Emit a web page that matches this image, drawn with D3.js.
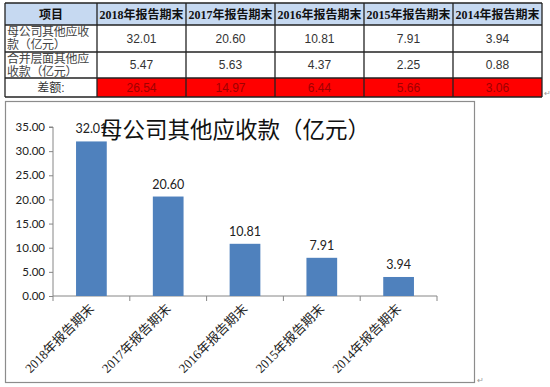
<!DOCTYPE html>
<meta charset="utf-8">
<style>
body { margin: 0; background: #fff; }
svg { display: block; }
</style>
<body>
<script src="https://d3js.org/d3.v7.min.js"></script>
<script>

// data
var categories = ["2018年报告期末", "2017年报告期末", "2016年报告期末", "2015年报告期末", "2014年报告期末"];
var parentValues = [32.01, 20.60, 10.81, 7.91, 3.94];
var groupValues = [5.47, 5.63, 4.37, 2.25, 0.88];
var diffValues = [26.54, 14.97, 6.44, 5.66, 3.06];
var rowLabels = [["母公司其他应收", "款（亿元）"], ["合并层面其他应", "收款（亿元）"]];
var yTicks = [0, 5, 10, 15, 20, 25, 30, 35];
var chartTitle = "母公司其他应收款（亿元）";

var svg = d3.select("body").append("svg")
  .attr("width", 550)
  .attr("height", 387);

// ---------- table ----------
var tLeft = 5, tFirst = 97, tRight = 542;
var rowY = [3, 25, 52, 78, 97];
var col = d3.scaleBand().domain(categories).range([tFirst, tRight]);
var serif = "'Liberation Serif', 'Noto Sans CJK SC', serif";
var sans = "'Liberation Sans', 'Noto Sans CJK SC', sans-serif";

var table = svg.append("g");

// header background
table.append("rect")
  .attr("x", tLeft).attr("y", rowY[0])
  .attr("width", tRight - tLeft).attr("height", rowY[1] - rowY[0])
  .attr("fill", "#c6d9f1");

// red difference cells
table.selectAll(".diffcell").data(categories).enter().append("rect")
  .attr("x", function(d) { return col(d); })
  .attr("y", rowY[3])
  .attr("width", col.bandwidth())
  .attr("height", rowY[4] - rowY[3])
  .attr("fill", "#ff0000");

// grid lines
rowY.forEach(function(y) {
  table.append("line")
    .attr("x1", tLeft).attr("x2", tRight).attr("y1", y).attr("y2", y)
    .attr("stroke", "#222").attr("stroke-width", 1.3);
});
[tLeft].concat(categories.map(function(d) { return col(d); })).concat([tRight]).forEach(function(x) {
  table.append("line")
    .attr("x1", x).attr("x2", x).attr("y1", rowY[0]).attr("y2", rowY[4])
    .attr("stroke", "#222").attr("stroke-width", 1.3);
});

// header text
table.append("text")
  .attr("x", (tLeft + tFirst) / 2).attr("y", 18.5)
  .attr("text-anchor", "middle")
  .attr("font-family", sans).attr("font-weight", "bold").attr("font-size", 12)
  .attr("fill", "#111")
  .text("项目");
table.selectAll(".head").data(categories).enter().append("text")
  .attr("x", function(d) { return col(d) + col.bandwidth() / 2; })
  .attr("y", 18.5)
  .attr("text-anchor", "middle")
  .attr("font-family", serif).attr("font-weight", "bold").attr("font-size", 12)
  .attr("fill", "#111")
  .text(function(d) { return d; });

// row labels
rowLabels.forEach(function(lines, i) {
  lines.forEach(function(s, j) {
    table.append("text")
      .attr("x", tLeft + 2)
      .attr("y", rowY[i + 1] + 11 + j * 13)
      .attr("font-family", sans).attr("font-size", 12)
      .attr("letter-spacing", -0.3)
      .attr("fill", "#444")
      .text(s);
  });
});
table.append("text")
  .attr("x", (tLeft + tFirst) / 2).attr("y", 92)
  .attr("text-anchor", "middle")
  .attr("font-family", sans).attr("font-size", 12)
  .attr("fill", "#333")
  .text("差额:");

// row values
[parentValues, groupValues].forEach(function(vals, i) {
  table.selectAll(".v" + i).data(vals).enter().append("text")
    .attr("x", function(d, k) { return col(categories[k]) + col.bandwidth() / 2; })
    .attr("y", (rowY[i + 1] + rowY[i + 2]) / 2 + 4)
    .attr("text-anchor", "middle")
    .attr("font-family", sans).attr("font-size", 12)
    .attr("fill", "#333")
    .text(function(d) { return d.toFixed(2); });
});
table.selectAll(".vd").data(diffValues).enter().append("text")
  .attr("x", function(d, k) { return col(categories[k]) + col.bandwidth() / 2; })
  .attr("y", 92)
  .attr("text-anchor", "middle")
  .attr("font-family", sans).attr("font-size", 12)
  .attr("fill", "#a00000")
  .text(function(d) { return d.toFixed(2); });

svg.append("text").attr("x", 544).attr("y", 96)
  .attr("font-size", 8).attr("fill", "#999").text("↵");

// ---------- chart ----------
svg.append("rect")
  .attr("x", 5.5).attr("y", 101.5)
  .attr("width", 469).attr("height", 281)
  .attr("fill", "#fff")
  .attr("stroke", "#8c8c8c").attr("stroke-width", 1.2);

var x = d3.scaleBand().domain(categories).range([53, 437])
  .paddingInner(0.6).paddingOuter(0.3);
var y = d3.scaleLinear().domain([0, 35]).range([296, 127]);

var yAxis = svg.append("g")
  .attr("transform", "translate(53,0)")
  .call(d3.axisLeft(y).tickValues(yTicks).tickFormat(d3.format(".2f")).tickSize(4).tickPadding(4));
yAxis.select(".domain").attr("stroke", "#868686").attr("d", "M-4," + y(35) + "H0V" + y(0));
yAxis.selectAll(".tick line").attr("stroke", "#868686");
yAxis.selectAll(".tick text")
  .attr("font-family", "Lato, 'Open Sans', sans-serif").attr("font-size", 11.5).attr("fill", "#222");

// x axis with ticks on the category boundaries
var step = x.step();
var bounds = categories.map(function(d) { return x(d) - step * 0.3; });
bounds.push(bounds[bounds.length - 1] + step);
svg.append("line")
  .attr("x1", 53).attr("x2", bounds[bounds.length - 1])
  .attr("y1", y(0)).attr("y2", y(0))
  .attr("stroke", "#868686");
svg.selectAll(".xt").data(bounds).enter().append("line")
  .attr("x1", function(d) { return d; }).attr("x2", function(d) { return d; })
  .attr("y1", y(0)).attr("y2", y(0) + 5)
  .attr("stroke", "#868686");

// bars
svg.selectAll(".bar").data(parentValues).enter().append("rect")
  .attr("x", function(d, i) { return x(categories[i]); })
  .attr("y", function(d) { return y(d); })
  .attr("width", x.bandwidth())
  .attr("height", function(d) { return y(0) - y(d); })
  .attr("fill", "#4f81bd");

// value labels
svg.selectAll(".lbl").data(parentValues).enter().append("text")
  .attr("x", function(d, i) { return x(categories[i]) + x.bandwidth() / 2; })
  .attr("y", function(d) { return y(d) - 8; })
  .attr("text-anchor", "middle")
  .attr("font-family", "Lato, 'Open Sans', sans-serif").attr("font-size", 12.5)
  .attr("fill", "#222")
  .text(function(d) { return d.toFixed(2); });

// rotated category labels
svg.selectAll(".cat").data(categories).enter().append("text")
  .attr("transform", function(d) {
    return "translate(" + (x(d) + x.bandwidth() / 2 - 3) + "," + (y(0) + 7) + ") rotate(-45)";
  })
  .attr("text-anchor", "end")
  .attr("dy", "0.7em")
  .attr("font-family", serif).attr("font-size", 13)
  .attr("fill", "#222")
  .text(function(d) { return d; });

// title (overlaps the first value label, as in the original)
svg.append("text")
  .attr("x", 100).attr("y", 138)
  .attr("font-family", "'Noto Sans CJK SC', sans-serif").attr("font-size", 22.5)
  .attr("fill", "#111")
  .text(chartTitle);

svg.append("text").attr("x", 477).attr("y", 383)
  .attr("font-size", 8).attr("fill", "#999").text("↵");

</script>
</body>
